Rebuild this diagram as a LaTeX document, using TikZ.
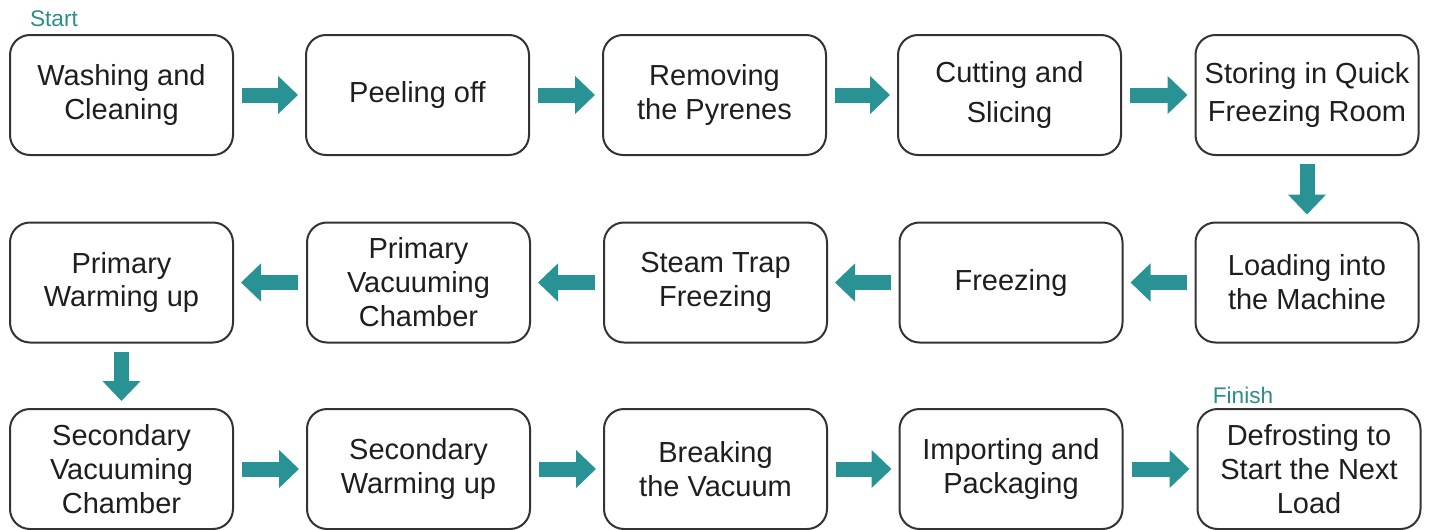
\documentclass[tikz,border=0pt]{standalone}
\usepackage{fontspec}
\setmainfont{Liberation Sans}
\usetikzlibrary{arrows.meta}
\definecolor{boxLine}{RGB}{51,51,51}
\definecolor{stepText}{RGB}{30,30,30}
\definecolor{arrowColor}{RGB}{40,146,148}
\definecolor{labelColor}{RGB}{44,140,140}
\newcommand{\stepFont}{\fontsize{14.5pt}{17pt}\selectfont}
\newcommand{\labelFont}{\fontsize{11.3pt}{13pt}\selectfont}
\tikzstyle{flowChart} = [x = 0.5pt, y = -0.5pt]
\tikzstyle{stepStyle} = [draw=boxLine, line width=1pt, rounded corners=10pt, minimum width=111.5pt, minimum height=60pt, inner sep=0pt, align=center, text=stepText, font=\stepFont]
\tikzstyle{flowArrow} = [draw=arrowColor, line width=7.5pt, -{Triangle[length=10pt, width=18.5pt]}, shorten <=4pt, shorten >=3.5pt]
\tikzstyle{labelText} = [text=labelColor, font=\labelFont, inner sep=0pt]
\newcommand{\stepBox}[4]{\node [stepStyle] (#1) at (#2,#3) {#4};}
\newcommand{\flowLink}[2]{\draw [flowArrow] (#1) -- (#2);}

\begin{document}
\begin{tikzpicture}[flowChart]
  \useasboundingbox (0,0) rectangle (1431,530);
  % first row, left to right
  \stepBox{wash}{121.5}{95}{Washing and\\Cleaning}
  \stepBox{peel}{417.5}{95}{Peeling off}
  \stepBox{pyrene}{714.5}{95}{Removing\\the Pyrenes}
  \stepBox{cut}{1009.5}{95}{Cutting and\\[3pt]Slicing}
  \stepBox{store}{1307}{95}{Storing in Quick\\[2pt]Freezing Room}
  % second row, right to left
  \stepBox{load}{1307}{282.5}{Loading into\\the Machine}
  \stepBox{freeze}{1011}{282.5}{Freezing}
  \stepBox{trap}{715.5}{282.5}{Steam Trap\\Freezing}
  \stepBox{primVac}{418.5}{282.5}{Primary\\Vacuuming\\Chamber}
  \stepBox{primWarm}{121.5}{282.5}{Primary\\Warming up}
  % third row, left to right
  \stepBox{secVac}{121.5}{469}{Secondary\\Vacuuming\\Chamber}
  \stepBox{secWarm}{418.5}{469}{Secondary\\Warming up}
  \stepBox{breakVac}{715.5}{469}{Breaking\\the Vacuum}
  \stepBox{pack}{1011}{469}{Importing and\\Packaging}
  \stepBox{defrost}{1309}{469}{Defrosting to\\Start the Next\\Load}

  \node [labelText] (start) at (54,19) {Start};
  \node [labelText] (finish) at (1243,395) {Finish};

  \flowLink{wash.east}{peel.west}
  \flowLink{peel.east}{pyrene.west}
  \flowLink{pyrene.east}{cut.west}
  \flowLink{cut.east}{store.west}
  \flowLink{store.south}{load.north}
  \flowLink{load.west}{freeze.east}
  \flowLink{freeze.west}{trap.east}
  \flowLink{trap.west}{primVac.east}
  \flowLink{primVac.west}{primWarm.east}
  \flowLink{primWarm.south}{secVac.north}
  \flowLink{secVac.east}{secWarm.west}
  \flowLink{secWarm.east}{breakVac.west}
  \flowLink{breakVac.east}{pack.west}
  \flowLink{pack.east}{defrost.west}
\end{tikzpicture}
\end{document}
